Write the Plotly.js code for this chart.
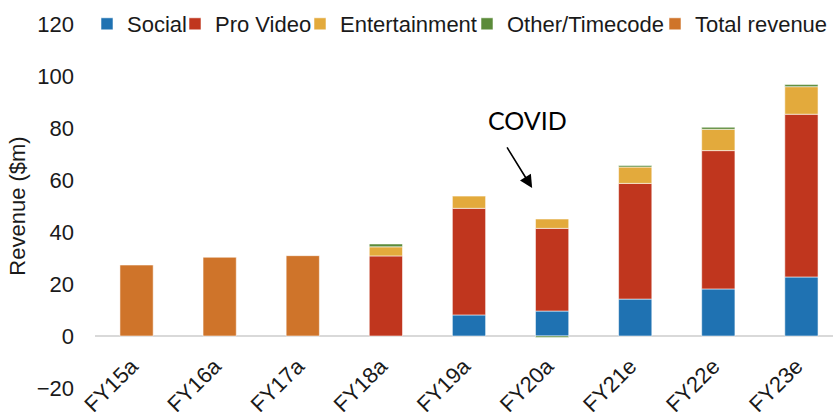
<!DOCTYPE html>
<html>
<head>
<meta charset="utf-8">
<script src="https://cdn.plot.ly/plotly-3.0.1.min.js"></script>
<style>html,body{margin:0;padding:0;background:#fff;}#chart{width:833px;height:412px;}</style>
</head>
<body>
<div id="chart"></div>
<script>
const categories = ['FY15a','FY16a','FY17a','FY18a','FY19a','FY20a','FY21e','FY22e','FY23e'];
const social        = [null, null, null, null, 8.1, 9.6, 14.2, 18.1, 22.7];
const proVideo      = [null, null, null, 30.8, 41.0, 31.8, 44.5, 53.2, 62.6];
const entertainment = [null, null, null, 3.5, 4.7, 3.6, 6.3, 8.2, 10.6];
const otherTimecode = [null, null, null, 1.1, null, -0.6, 0.6, 0.8, 0.8];
const totalRevenue  = [27.3, 30.3, 30.9, null, null, null, null, null, null];
const yTicks = [-20, 0, 20, 40, 60, 80, 100, 120];

const edge = {color: 'rgba(255,255,255,0.55)', width: 1};
function bar(name, values, color, legendId) {
  return {type: 'bar', name: name, x: categories, y: values, legend: legendId,
          marker: {color: color, line: edge}, hoverinfo: 'x+y+name'};
}
const data = [
  bar('Social', social, '#1F72B2', 'legend'),
  bar('Pro Video', proVideo, '#C0361E', 'legend2'),
  bar('Entertainment', entertainment, '#E3AA3C', 'legend3'),
  bar('Other/Timecode', otherTimecode, '#5B8B3A', 'legend4'),
  bar('Total revenue', totalRevenue, '#CF742A', 'legend5')
];

const font = {family: 'Liberation Sans, Arial, sans-serif', size: 22, color: '#1a1a1a'};
function legendAt(textStart) {
  return {orientation: 'h', xref: 'container', yref: 'container',
          x: (textStart - 37) / 833, y: 1 - 24 / 412, xanchor: 'left', yanchor: 'middle',
          font: font, bgcolor: 'rgba(0,0,0,0)', borderwidth: 0};
}
const layout = {
  width: 833, height: 412,
  margin: {l: 95, r: 0, t: 24, b: 24, pad: 0, autoexpand: false},
  paper_bgcolor: '#fff', plot_bgcolor: '#fff',
  font: font,
  barmode: 'relative',
  bargap: 0.6,
  showlegend: true,
  legend: legendAt(124),
  legend2: legendAt(212),
  legend3: legendAt(337),
  legend4: legendAt(504),
  legend5: legendAt(692),
  xaxis: {type: 'category', range: [-0.5, 8.38], anchor: 'free', position: 20/140,
          showgrid: false, showline: false, zeroline: false, ticks: '',
          tickangle: -45, tickfont: font, ticklabelstandoff: 12, ticklabelshift: -5},
  yaxis: {range: [-20, 120], tickvals: yTicks, showgrid: false, showline: false,
          zeroline: true, zerolinecolor: '#d9d9d9', zerolinewidth: 2.5,
          ticks: '', tickfont: font, ticklabelstandoff: 20,
          title: {text: 'Revenue ($m)', font: font, standoff: 4}},
  annotations: [
    {text: 'COVID', x: 4.70, y: 83.1, xref: 'x', yref: 'y', showarrow: false,
     font: {family: 'Lato, Open Sans, sans-serif', size: 25, color: '#000'}},
    {text: '', x: 4.76, y: 56.9, xref: 'x', yref: 'y', axref: 'x', ayref: 'y',
     ax: 4.447, ay: 73.1, showarrow: true, arrowhead: 2, arrowsize: 1.6,
     arrowwidth: 1.6, arrowcolor: '#000', standoff: 0}
  ]
};
Plotly.newPlot('chart', data, layout, {displayModeBar: false, staticPlot: true});
</script>
</body>
</html>
